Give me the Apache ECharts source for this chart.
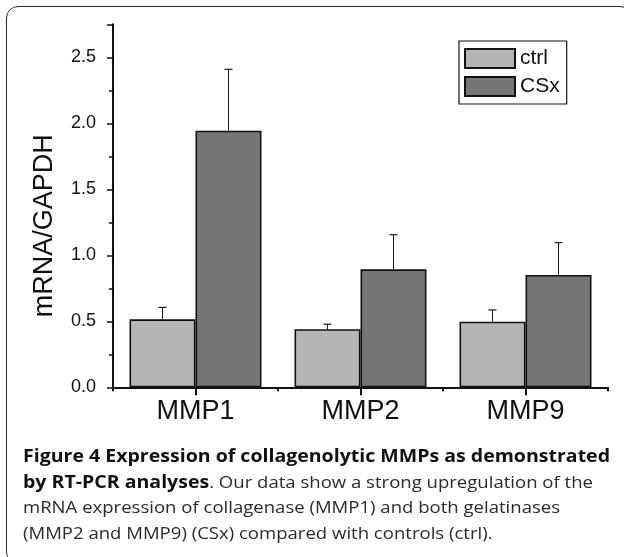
<!DOCTYPE html>
<html>
<head>
<meta charset="utf-8">
<script src="https://cdn.jsdelivr.net/npm/echarts@6/dist/echarts.min.js"></script>
<style>
  html, body { margin: 0; padding: 0; background: #fff; }
  #wrap { position: relative; width: 624px; height: 557px; overflow: hidden; }
  #frame { position: absolute; left: 6px; top: 6px; width: 626px; height: 558px;
           border: 1.6px solid #2a2a2a; border-radius: 12px; box-sizing: border-box; }
  #chart { position: absolute; left: 0; top: 0; width: 624px; height: 557px; }
  #caption { position: absolute; left: 23px; top: 443px;
             font-family: 'Open Sans', 'Noto Sans', sans-serif; font-size: 17.1px;
             line-height: 25.7px; color: #2a2a2a; white-space: nowrap;
             transform: scaleX(1.085); transform-origin: 0 0; }
  #caption b { font-weight: 700; color: #111; font-size: 18px; }
</style>
</head>
<body>
<div id="wrap">
  <div id="chart"></div>
  <div id="frame"></div>
  <div id="caption"><b>Figure 4 Expression of collagenolytic MMPs as demonstrated</b><br><b>by RT-PCR analyses</b>. Our data show a strong upregulation of the<br>mRNA expression of collagenase (MMP1) and both gelatinases<br>(MMP2 and MMP9) (CSx) compared with controls (ctrl).</div>
</div>
<script>
// ---- data ----
var categories = ['MMP1', 'MMP2', 'MMP9'];
var ctrlValues = [0.515, 0.44, 0.497];
var ctrlErrors = [0.09, 0.038, 0.089];
var csxValues  = [1.944, 0.894, 0.851];
var csxErrors  = [0.465, 0.262, 0.245];
var yTicks = [0, 0.5, 1.0, 1.5, 2.0, 2.5];

var FONT = "'Liberation Sans', Arial, sans-serif";
var BAR_FRAC = 0.4; // each bar = 40% of category width (barCategoryGap 20%, barGap 0)

function errData(vals, errs) {
  return vals.map(function (v, i) { return [i, v, v + errs[i]]; });
}
function errRenderer(side) {
  return function (params, api) {
    var idx = api.value(0);
    var base = api.coord([idx, api.value(1)]);
    var top = api.coord([idx, api.value(2)]);
    var bw = api.size([1, 0])[0] * BAR_FRAC;
    var x = base[0] + side * bw / 2;
    var cap = 4;
    return {
      type: 'group',
      children: [
        { type: 'line', shape: { x1: x, y1: base[1], x2: x, y2: top[1] },
          style: { stroke: '#1a1a1a', lineWidth: 1 } },
        { type: 'line', shape: { x1: x - cap, y1: top[1], x2: x + cap, y2: top[1] },
          style: { stroke: '#1a1a1a', lineWidth: 1.2 } }
      ]
    };
  };
}

var chart = echarts.init(document.getElementById('chart'), null, { renderer: 'canvas' });
chart.setOption({
  animation: false,
  backgroundColor: '#fff',
  grid: { left: 113, right: 16, top: 24.3, bottom: 169.7, containLabel: false },
  legend: {
    data: ['ctrl', 'CSx'],
    orient: 'vertical',
    left: 459, top: 41,
    icon: 'rect',
    itemWidth: 50, itemHeight: 19, itemGap: 7,
    padding: [7, 7, 7, 5],
    borderColor: '#111', borderWidth: 1.2, borderRadius: 0,
    textStyle: { fontFamily: FONT, fontSize: 21, color: '#111' }
  },
  xAxis: [{
    type: 'category',
    data: categories,
    axisLine: { lineStyle: { color: '#111', width: 2 } },
    axisTick: { show: true, alignWithLabel: true, interval: 0, length: 8, lineStyle: { color: '#111', width: 2 } },
    axisLabel: { fontFamily: FONT, fontSize: 27, color: '#111', margin: 11 },
    splitLine: { show: false }
  }, {
    type: 'category',
    data: categories,
    position: 'bottom',
    axisLine: { show: false },
    axisTick: { show: true, interval: 0, length: 4, lineStyle: { color: '#111', width: 2 } },
    axisLabel: { show: false },
    splitLine: { show: false }
  }],
  yAxis: {
    type: 'value',
    min: 0, max: 2.75, interval: 0.5,
    name: 'mRNA/GAPDH',
    nameLocation: 'middle',
    nameGap: 55,
    nameTextStyle: { fontFamily: FONT, fontSize: 27, color: '#111', padding: [0, 40, 0, 0] },
    axisLine: { show: true, lineStyle: { color: '#111', width: 2 } },
    axisTick: { show: true, length: 6, lineStyle: { color: '#111', width: 1.5 } },
    minorTick: { show: true, splitNumber: 2, length: 4, lineStyle: { color: '#111', width: 1.5 } },
    axisLabel: { fontFamily: FONT, fontSize: 18, color: '#111', margin: 17,
      customValues: yTicks,
      formatter: function (v) { return v.toFixed(1); } },
    splitLine: { show: false }
  },
  series: [{
    name: 'ctrl', type: 'bar', data: ctrlValues,
    barGap: '0%', barCategoryGap: '20%',
    itemStyle: { color: '#b4b6b6', borderColor: '#111', borderWidth: 1.6 }
  }, {
    name: 'CSx', type: 'bar', data: csxValues,
    barGap: '0%', barCategoryGap: '20%',
    itemStyle: { color: '#767677', borderColor: '#111', borderWidth: 1.6 }
  }, {
    type: 'custom', name: 'ctrl-err', data: errData(ctrlValues, ctrlErrors),
    renderItem: errRenderer(-1), z: 3, silent: true,
    encode: { x: 0, y: [1, 2] }
  }, {
    type: 'custom', name: 'csx-err', data: errData(csxValues, csxErrors),
    renderItem: errRenderer(1), z: 3, silent: true,
    encode: { x: 0, y: [1, 2] }
  }]
});
</script>
</body>
</html>
